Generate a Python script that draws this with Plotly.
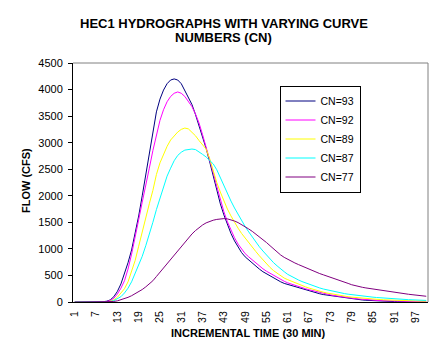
import plotly.graph_objects as go

# ---------------- data ----------------
time_steps = list(range(1, 101))
tick_labels = [str(v) for v in range(1, 101, 6)]

cn93 = [0, 0, 0, 0, 0, 0, 0, 0,
        5, 15, 40, 100, 200, 340, 520, 740, 980, 1280, 1620, 2000,
        2400, 2850, 3250, 3580, 3820, 3990, 4110, 4180, 4200, 4180,
        4110, 3990, 3860, 3720, 3530, 3330, 3120, 2890, 2640, 2380,
        2100, 1850, 1640, 1450, 1290, 1150, 1030, 930, 850, 790,
        730, 670, 620, 570, 530, 490, 450, 410, 380, 350,
        330, 310, 285, 265, 245, 225, 205, 190, 170, 155,
        140, 130, 115, 105, 95, 85, 75, 65, 58, 50,
        44, 38, 33, 28, 24, 20, 17, 14, 12, 10,
        8, 7, 6, 5, 4, 3, 3, 2, 2, 1]

cn92 = [0, 0, 0, 0, 0, 0, 0, 0,
        3, 10, 30, 70, 150, 260, 400, 620, 900, 1200, 1550, 1880,
        2180, 2520, 2850, 3150, 3420, 3620, 3770, 3870, 3930, 3955,
        3930, 3870, 3780, 3680, 3540, 3370, 3150, 2920, 2680, 2440,
        2180, 1930, 1700, 1510, 1350, 1210, 1090, 990, 910, 850,
        790, 730, 675, 625, 580, 540, 500, 460, 420, 390,
        360, 335, 310, 290, 270, 250, 230, 212, 195, 178,
        162, 148, 135, 122, 110, 100, 90, 80, 72, 64,
        57, 50, 45, 40, 35, 31, 27, 24, 21, 18,
        16, 14, 12, 11, 10, 9, 8, 7, 6, 5]

cn89 = [0, 0, 0, 0, 0, 0, 0, 0, 0,
        5, 15, 40, 90, 160, 250, 380, 560, 780, 1050, 1330,
        1580, 1850, 2100, 2400, 2620, 2780, 2930, 3050, 3130, 3200,
        3250, 3275, 3260, 3200, 3130, 3040, 2960, 2880, 2700, 2470,
        2250, 2070, 1900, 1750, 1620, 1500, 1390, 1290, 1200, 1110,
        1030, 950, 870, 790, 710, 650, 590, 540, 490, 450,
        420, 390, 360, 335, 310, 285, 262, 240, 220, 202,
        185, 170, 156, 143, 131, 120, 110, 100, 92, 85,
        78, 72, 66, 60, 55, 50, 46, 42, 38, 35,
        32, 29, 27, 25, 23, 21, 20, 18, 17, 16]

cn87 = [0, 0, 0, 0, 0, 0, 0, 0, 0,
        3, 10, 25, 55, 100, 170, 260, 380, 530, 680, 860,
        1060, 1260, 1500, 1740, 1950, 2130, 2370, 2520, 2660, 2760,
        2820, 2860, 2875, 2880, 2870, 2830, 2780, 2730, 2670, 2600,
        2490, 2340, 2180, 2030, 1900, 1770, 1650, 1530, 1420, 1320,
        1220, 1130, 1040, 960, 880, 810, 740, 680, 620, 570,
        520, 480, 445, 415, 385, 358, 332, 308, 285, 264,
        245, 228, 212, 197, 183, 170, 158, 147, 137, 128,
        120, 112, 105, 98, 91, 85, 79, 73, 68, 63,
        59, 55, 51, 47, 44, 41, 38, 35, 32, 30]

cn77 = [0, 0, 0, 0, 0, 0, 0, 0, 0, 0,
        3, 10, 22, 40, 62, 88, 118, 152, 190, 235,
        285, 335, 400, 480, 560, 645, 730, 815, 895, 975,
        1050, 1130, 1210, 1280, 1345, 1400, 1450, 1490, 1520, 1540,
        1555, 1565, 1570, 1565, 1550, 1525, 1495, 1460, 1420, 1375,
        1330, 1280, 1230, 1175, 1120, 1060, 1000, 940, 885, 840,
        800, 765, 735, 705, 675, 645, 615, 590, 560, 535,
        512, 490, 470, 450, 425, 400, 375, 350, 325, 305,
        290, 277, 265, 254, 243, 232, 221, 211, 201, 192,
        182, 172, 163, 154, 146, 138, 130, 122, 115, 108]

series_names = ["CN=93", "CN=92", "CN=89", "CN=87", "CN=77"]
series_values = [cn93, cn92, cn89, cn87, cn77]
series_colors = ["#000080", "#FF00FF", "#FFFF00", "#00FFFF", "#800080"]

# ---------------- layout geometry ----------------
W, H = 447, 349
L, R, T, B = 73, 19, 63, 47
PW, PH = W - L - R, H - T - B
FONT = "Liberation Sans, Arial, sans-serif"


def px_to_paper_y(y):
    return 1 - (y - T) / PH


def px_to_paper_x(x):
    return (x - L) / PW


fig = go.Figure()
for name, vals, col in zip(series_names, series_values, series_colors):
    fig.add_trace(go.Scatter(x=time_steps, y=vals, mode="lines", name=name,
                             line=dict(color=col, width=1), hoverinfo="skip"))

xr = [0.5, 100.5]
yr = [0, 4500]

fig.update_layout(
    width=W, height=H,
    margin=dict(l=L, r=R, t=T, b=B, pad=0),
    paper_bgcolor="white", plot_bgcolor="white",
    font=dict(family=FONT, color="black", size=11),
    showlegend=True,
    legend=dict(x=px_to_paper_x(279.5), y=px_to_paper_y(85.5),
                xanchor="left", yanchor="top",
                bgcolor="white", bordercolor="black", borderwidth=1,
                font=dict(size=10.5, family=FONT), itemwidth=30,
                tracegroupgap=0),
    xaxis=dict(range=xr, tickmode="array",
               tickvals=list(range(1, 101, 6)), ticktext=tick_labels,
               tickangle=-90, ticks="", showline=True, linecolor="black",
               linewidth=1, showgrid=False, zeroline=False,
               tickfont=dict(size=10.5), ticklabelstandoff=4),
    xaxis2=dict(range=xr, overlaying="x", anchor="y", side="bottom",
                tickmode="linear", tick0=0.5, dtick=1, ticks="outside",
                ticklen=3, tickcolor="black", tickwidth=1,
                showticklabels=False, showline=False, showgrid=False,
                zeroline=False),
    xaxis3=dict(range=xr, overlaying="x", anchor="y", side="bottom",
                tickmode="linear", tick0=0.5, dtick=1, ticks="inside",
                ticklen=2, tickcolor="black", tickwidth=1,
                showticklabels=False, showline=False, showgrid=False,
                zeroline=False),
    yaxis=dict(range=yr, tickmode="linear", tick0=0, dtick=500,
               ticks="outside", ticklen=4, tickcolor="black",
               showline=True, linecolor="black", linewidth=1,
               showgrid=False, zeroline=False, tickfont=dict(size=11),
               ticklabelstandoff=3),
    yaxis2=dict(range=yr, overlaying="y", anchor="x", side="left",
                tickmode="linear", tick0=0, dtick=500, ticks="inside",
                ticklen=2, tickcolor="black", showticklabels=False,
                showline=False, showgrid=False, zeroline=False),
    shapes=[
        dict(type="line", xref="paper", yref="paper", x0=0, x1=1, y0=1, y1=1,
             line=dict(color="#808080", width=1)),
        dict(type="line", xref="paper", yref="paper", x0=1, x1=1, y0=0, y1=1,
             line=dict(color="#808080", width=1)),
    ],
    annotations=[
        dict(text="<b>HEC1 HYDROGRAPHS WITH VARYING CURVE</b>",
             xref="paper", yref="paper", x=px_to_paper_x(223.5),
             y=px_to_paper_y(24), xanchor="center", yanchor="middle",
             showarrow=False, font=dict(size=13)),
        dict(text="<b>NUMBERS (CN)</b>",
             xref="paper", yref="paper", x=px_to_paper_x(223.5),
             y=px_to_paper_y(37.5), xanchor="center", yanchor="middle",
             showarrow=False, font=dict(size=13)),
        dict(text="<b>INCREMENTAL TIME (30 MIN)</b>",
             xref="paper", yref="paper", x=px_to_paper_x(248),
             y=px_to_paper_y(333), xanchor="center", yanchor="middle",
             showarrow=False, font=dict(size=11)),
        dict(text="<b>FLOW (CFS)</b>", textangle=-90,
             xref="paper", yref="paper", x=px_to_paper_x(26),
             y=px_to_paper_y(181), xanchor="center", yanchor="middle",
             showarrow=False, font=dict(size=11)),
    ],
)

fig.write_html("out.html")
